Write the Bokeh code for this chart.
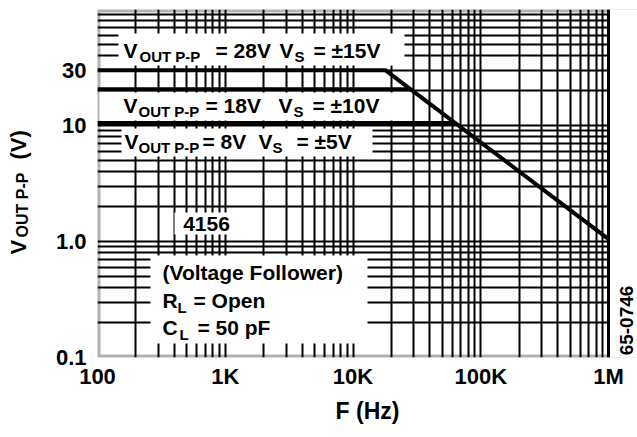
import math
from bokeh.plotting import figure
from bokeh.layouts import row
from bokeh.models import Range1d, FixedTicker, BoxAnnotation, Label, Span, Title
from bokeh.core.properties import value
from bokeh.embed import file_html
from bokeh.resources import INLINE

# ---- data ----
freq_15 = [100, 17900, 1_000_000]
vout_15 = [30, 30, 1.05]
freq_10 = [100, 28300]
vout_10 = [20.5, 20.5]
freq_5 = [100, 63000]
vout_5 = [10.5, 10.5]

x_ticks = [100, 1e3, 1e4, 1e5, 1e6]
x_tick_labels = ["100", "1K", "10K", "100K", "1M"]
y_ticks = [0.1, 1, 10, 30]
y_tick_labels = ["0.1", "1.0", "10", "30"]

x_minor = [k * 10 ** d for d in range(2, 6) for k in range(2, 10)]
y_minor = [k * 10.0 ** d for d in (-1, 0, 1) for k in range(2, 10) if not (d == 1 and k == 3)] + [100]

FONT = "Liberation Sans"
LEFT_W = 40
H = 430
PX_PER_DEC = 127.75
X_END = 10 ** (2 + 540 / PX_PER_DEC)   # frame runs on to the page edge; 1M sits at the chart border

p = figure(x_axis_type="log", y_axis_type="log",
           x_range=Range1d(100, X_END), y_range=Range1d(0.1, 100),
           frame_width=540, frame_height=348,
           min_border_left=97 - LEFT_W, min_border_right=0, min_border_top=9, min_border_bottom=40,
           output_backend="svg", toolbar_location=None)

p.xaxis.ticker = FixedTicker(ticks=x_ticks, minor_ticks=x_minor)
p.yaxis.ticker = FixedTicker(ticks=y_ticks, minor_ticks=y_minor)
p.xaxis.major_label_overrides = dict(zip(x_ticks, x_tick_labels))
p.yaxis.major_label_overrides = dict(zip(y_ticks, y_tick_labels))

for g in (p.xgrid, p.ygrid):
    g.grid_line_color = "black"
    g.grid_line_width = 2
    g.minor_grid_line_color = "black"
    g.minor_grid_line_width = 2

p.outline_line_color = None
p.axis.axis_line_color = None
p.axis.major_tick_line_color = None
p.axis.minor_tick_line_color = None
p.axis.major_tick_out = 0
p.axis.major_tick_in = 0
p.axis.minor_tick_out = 0
p.axis.major_label_text_font = FONT
p.axis.major_label_text_font_style = "bold"
p.axis.major_label_text_font_size = "22px"
p.axis.major_label_text_color = "black"
p.xaxis.major_label_standoff = 6
p.yaxis.major_label_standoff = 11

p.add_layout(Title(text="F (Hz)", align="center", offset=-14, standoff=9,
                   text_font=FONT, text_font_size="23px", text_font_style="bold",
                   text_color="black"), "below")

for fr, vo in ((freq_15, vout_15), (freq_10, vout_10), (freq_5, vout_5)):
    p.line(fr, vo, line_width=4, color="black")

# chart border: left/top/bottom edges, white beyond 1M, right edge at 1M
p.add_layout(BoxAnnotation(left=100, right=X_END * 2, bottom=0.1, top=100,
                           fill_color=None, fill_alpha=0, line_color="black", line_width=6))
p.add_layout(BoxAnnotation(left=1e6, right=X_END * 2, bottom=0.01, top=1000,
                           fill_color="white", fill_alpha=1, line_color=None))
p.add_layout(Span(location=1e6, dimension="height", line_color="black", line_width=3))

# page-pixel -> data helpers for placing annotations
def fx(px):
    return 10 ** (2 + (px - 97) / PX_PER_DEC)

def fy(py):
    return 10 ** (-1 + (357 - py) / 116)

def box(l, r, t, b):
    p.add_layout(BoxAnnotation(left=fx(l), right=fx(r), top=fy(t), bottom=fy(b),
                               fill_color="white", fill_alpha=1, line_color=None))

def lab(text, px, py, size, align="left", angle=0):
    p.add_layout(Label(x=fx(px), y=fy(py), text=text, text_font=FONT,
                       text_font_style="bold", text_font_size=f"{size}px",
                       text_align=align, text_baseline="middle", angle=angle,
                       text_color="black"))

box(118, 404, 33, 65)
box(99, 402, 92, 120)
box(121, 372, 128, 156)
box(150, 367, 255, 343)
box(174, 234, 212, 234)

M, S = 21, 15
# row A
lab("V", 123, 50, M); lab("OUT P-P", 139, 56, S); lab("= 28V", 215, 50, M)
lab("V", 279, 50, M); lab("S", 294, 56, S); lab("= ±15V", 313, 50, M)
# row B
lab("V", 123, 105, M); lab("OUT P-P", 138, 111, S); lab("= 18V", 205, 105, M)
lab("V", 278, 105, M); lab("S", 293, 111, S); lab("= ±10V", 312, 105, M)
# row C
lab("V", 124, 141, M); lab("OUT P-P", 138, 147, S); lab("= 8V", 202, 141, M)
lab("V", 258, 141, M); lab("S", 272, 147, S); lab("= ±5V", 296, 141, M)
# lower-left notes
lab("4156", 206, 223, M, align="center")
lab("(Voltage Follower)", 162, 272, M)
lab("R", 162, 300, M); lab("L", 177, 307, S); lab("= Open", 193, 300, M)
lab("C", 162, 327, M); lab("L", 179, 334, S); lab("= 50 pF", 197, 327, M)
# figure code at the right edge
lab("65-0746", 626, 320, 19, align="center", angle=math.pi / 2)

# ---- y-axis title (rotated, with subscript) in a narrow side figure ----
yl = figure(frame_width=LEFT_W, frame_height=H, x_range=Range1d(0, LEFT_W), y_range=Range1d(0, H),
            x_axis_location=None, y_axis_location=None, title=None,
            min_border=0, output_backend="svg", toolbar_location=None)
yl.outline_line_color = None
yl.grid.visible = False
ytitle_text = ["V", "OUT P-P", "(V)"]
ytitle_x = [18, 22, 18]
ytitle_y = [H - 245, H - 228, H - 150]
ytitle_size = ["22px", "16px", "22px"]
yl.text(x=ytitle_x, y=ytitle_y, text=ytitle_text, angle=math.pi / 2,
        text_align="left", text_baseline="middle", text_font=value(FONT),
        text_font_style="bold", text_font_size=ytitle_size, text_color="black")

layout = row(yl, p)
open("out.html", "w").write(file_html(layout, INLINE))
